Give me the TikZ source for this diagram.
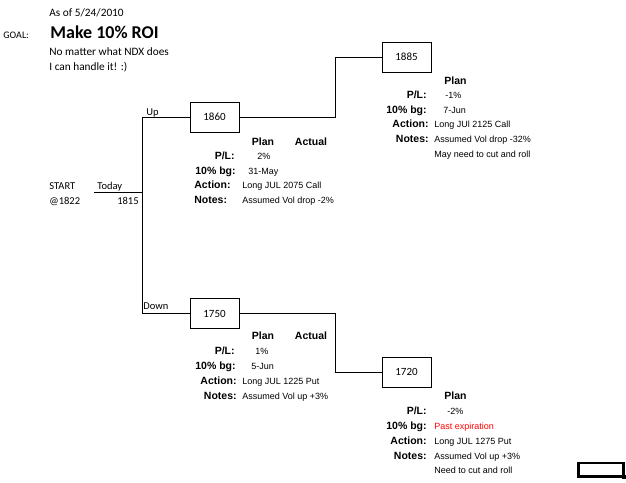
\documentclass[tikz,border=0pt]{standalone}
\usepackage{fontspec}
\setmainfont{Liberation Sans}
\newfontfamily\carl{Carlito}
\newfontfamily\libs{Liberation Sans}
\begin{document}
\begin{tikzpicture}[x=1pt,y=-1pt,
  line width=0.8pt,
  hdr/.style={font=\carl\fontsize{11.3}{12}\selectfont, inner sep=0, anchor=base west},
  lbl/.style={font=\carl\fontsize{10.5}{12}\selectfont, inner sep=0},
  val/.style={font=\libs\fontsize{9}{10}\selectfont, inner sep=0, anchor=base west},
  key/.style={font=\libs\bfseries\fontsize{10.5}{12}\selectfont, inner sep=0, anchor=base east},
  keyw/.style={font=\libs\bfseries\fontsize{10.5}{12}\selectfont, inner sep=0, anchor=base west},
  colh/.style={font=\libs\bfseries\fontsize{10.5}{12}\selectfont, inner sep=0, anchor=base},
  pbox/.style={draw, minimum width=49pt, minimum height=30pt, inner sep=0,
    font=\carl\fontsize{11}{12}\selectfont},
  tree/.style={line width=0.8pt}]
\fill[white] (0,0) rectangle (626,482);
\useasboundingbox (0,0) rectangle (626,482);

% header
\node[hdr] (asof) at (49,16) {As of 5/24/2010};
\node[hdr, font=\carl\fontsize{10}{12}\selectfont] (goal) at (3,38) {GOAL:};
\node[hdr, font=\carl\bfseries\fontsize{18}{20}\selectfont] (make) at (50,38) {Make 10\% ROI};
\node[hdr] (nomatter) at (49,55) {No matter what NDX does};
\node[hdr] (handle) at (49,70) {I can handle it! :)};

% start
\node[lbl, anchor=base west] (start) at (49,189) {START};
\node[lbl, anchor=base west] (at1822) at (49,204) {@1822};
\node[lbl, anchor=base west] (today) at (97,189) {Today};
\node[lbl, anchor=base east] (v1815) at (139,204) {1815};
\node[lbl, anchor=base west] (up) at (146,115) {Up};
\node[lbl, anchor=base west] (down) at (143,309) {Down};

% boxes
\node[pbox] (b1860) at (214.5,117) {1860};
\node[pbox] (b1885) at (406.5,57) {1885};
\node[pbox] (b1750) at (214.5,313.5) {1750};
\node[pbox] (b1720) at (406.5,372) {1720};

% connectors
\coordinate (t0) at (94,192);
\coordinate (fork) at (142,192);
\coordinate (upc) at (142,117);
\coordinate (downc) at (142,313.5);
\coordinate (jU) at (335,117);
\coordinate (jD) at (335,313.5);
\draw[tree] (t0) -- (fork);
\draw[tree] (upc) -- (downc);
\draw[tree] (upc) -- (b1860.west);
\draw[tree] (downc) -- (b1750.west);
\draw[tree] (b1860.east) -- (jU) |- (b1885.west);
\draw[tree] (b1750.east) -- (jD) |- (b1720.west);

% table 1860
\node[colh] (p1) at (263,145) {Plan};
\node[colh] (a1) at (311,145) {Actual};
\node[key] (k1a) at (235,159.5) {P/L:};
\node[val] (v1a) at (257,159.5) {2\%};
\node[key] (k1b) at (236,174) {10\% bg:};
\node[val] (v1b) at (248,174) {31-May};
\node[keyw] (k1c) at (194,188.5) {Action:};
\node[val] (v1c) at (242,188.5) {Long JUL 2075 Call};
\node[keyw] (k1d) at (194,203) {Notes:};
\node[val] (v1d) at (242,203) {Assumed Vol drop -2\%};

% table 1885
\node[colh] (p2) at (455.5,84) {Plan};
\node[key] (k2a) at (427,98.6) {P/L:};
\node[val] (v2a) at (445,98.6) {-1\%};
\node[key] (k2b) at (427,113.2) {10\% bg:};
\node[val] (v2b) at (443,113.2) {7-Jun};
\node[key] (k2c) at (429,127.8) {Action:};
\node[val] (v2c) at (434,127.8) {Long JUl 2125 Call};
\node[key] (k2d) at (429,142.4) {Notes:};
\node[val] (v2d) at (434,142.4) {Assumed Vol drop -32\%};
\node[val] (v2e) at (434,157) {May need to cut and roll};

% table 1750
\node[colh] (p3) at (263,339) {Plan};
\node[colh] (a3) at (311,339) {Actual};
\node[key] (k3a) at (235,354) {P/L:};
\node[val] (v3a) at (255,354) {1\%};
\node[key] (k3b) at (236,369) {10\% bg:};
\node[val] (v3b) at (251,369) {5-Jun};
\node[key] (k3c) at (237,384) {Action:};
\node[val] (v3c) at (242,384) {Long JUL 1225 Put};
\node[key] (k3d) at (237,399) {Notes:};
\node[val] (v3d) at (242,399) {Assumed Vol up +3\%};

% table 1720
\node[colh] (p4) at (455.5,399) {Plan};
\node[key] (k4a) at (427,414) {P/L:};
\node[val] (v4a) at (447,414) {-2\%};
\node[key] (k4b) at (427,429) {10\% bg:};
\node[val, text=red] (v4b) at (434,429) {Past expiration};
\node[key] (k4c) at (427,444) {Action:};
\node[val] (v4c) at (434,444) {Long JUL 1275 Put};
\node[key] (k4d) at (427,459) {Notes:};
\node[val] (v4d) at (434,459) {Assumed Vol up +3\%};
\node[val] (v4e) at (434,473) {Need to cut and roll};

% selected cell
\draw[line width=2.5pt] (578.5,463) rectangle (623.5,476.5);
\fill (622,475) rectangle (626,479);
\end{tikzpicture}
\end{document}
